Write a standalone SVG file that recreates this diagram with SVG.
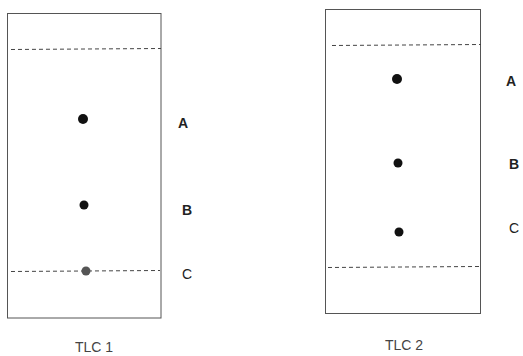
<svg xmlns="http://www.w3.org/2000/svg" width="523" height="356" viewBox="0 0 523 356">
<style>
.plate{fill:none;stroke:#555;stroke-width:1}
.dash{stroke:#444;stroke-width:1;stroke-dasharray:4,3}
.spot{fill:#111}
.lbl{font-family:"Liberation Sans",Arial,sans-serif;font-size:14px;fill:#222;text-anchor:middle}
.b{font-weight:bold}
.title{font-family:"Liberation Sans",Arial,sans-serif;font-size:14px;fill:#444;text-anchor:middle}
</style>
<rect width="523" height="356" fill="#fff"/>
<g id="tlc1">
<rect class="plate" x="7.5" y="13.5" width="153.5" height="304.5"/>
<line class="dash" x1="11" y1="49.5" x2="161" y2="48.5"/>
<line class="dash" x1="11" y1="271.5" x2="160" y2="270.5"/>
<circle class="spot" cx="83" cy="119" r="5"/>
<circle class="spot" cx="84" cy="205" r="4.5" fill="#222"/>
<circle cx="86" cy="271" r="4.5" fill="#555"/>
<text class="lbl b" x="183" y="128">A</text>
<text class="lbl b" x="187" y="215">B</text>
<text class="lbl" x="187" y="279">C</text>
<text class="title" x="94" y="352">TLC 1</text>
</g>
<g id="tlc2">
<rect class="plate" x="325.5" y="9.5" width="155" height="304"/>
<line class="dash" x1="332" y1="45.5" x2="481" y2="44.5"/>
<line class="dash" x1="328" y1="267.5" x2="479" y2="266.5"/>
<circle class="spot" cx="397" cy="79" r="5"/>
<circle class="spot" cx="398" cy="163" r="4.5"/>
<circle class="spot" cx="399" cy="232" r="4.5"/>
<text class="lbl b" x="511" y="86">A</text>
<text class="lbl b" x="514" y="169">B</text>
<text class="lbl" x="514" y="233">C</text>
<text class="title" x="404" y="350">TLC 2</text>
</g>
</svg>
